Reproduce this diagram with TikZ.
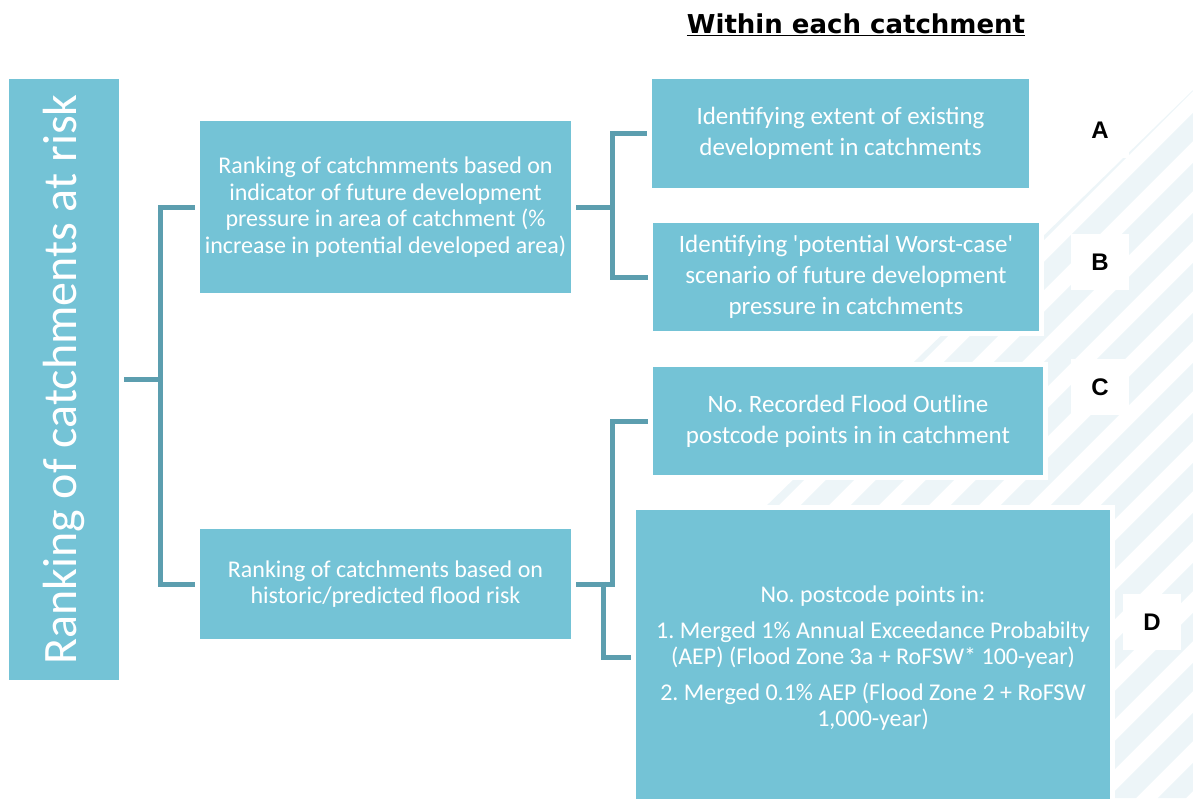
\documentclass[tikz,border=0pt]{standalone}
\usepackage{fontspec}
\setmainfont{Carlito}
\newfontfamily\headfont{DejaVu Sans}
\newfontfamily\tagfont{Liberation Sans}
\usetikzlibrary{positioning}
\frenchspacing
\definecolor{boxteal}{RGB}{116,195,214}
\definecolor{linkteal}{RGB}{92,158,175}
\definecolor{stripeblue}{RGB}{237,245,248}
\tikzset{
    tealbox/.style={rectangle, fill=boxteal, text=white, preaction={draw=white, line width=10pt}, inner sep=0pt, align=center, font=\fontsize{25}{31}\selectfont},
    leftbox/.style={tealbox, minimum width=371pt, font=\fontsize{24}{26.5}\selectfont},
    link/.style={draw=linkteal, line width=5pt, shorten <=5pt, shorten >=5pt},
    stub/.style={link, shorten >=-2.5pt},
    tagbox/.style={fill=white, font=\tagfont\bfseries\fontsize{24}{24}\selectfont, minimum width=58pt, minimum height=56pt},
    stripe/.style={draw=stripeblue, line width=20pt}
}

\begin{document}
\begin{tikzpicture}[x=1pt, y=-1pt]

        \useasboundingbox (0,0) rectangle (1193,798);

        % ------------------
        % stripes
        % ------------------

        \begin{scope}
            \clip (1193,90) -- (1193,798) -- (760,798) -- (760,512) -- cycle;
            \foreach \s in {0,...,16}
                \draw[stripe] (420+50*\s,850) -- ++(820,-820);
        \end{scope}

        % ------------------
        % nodes
        % ------------------

        \node[tealbox, minimum width=110pt, minimum height=601pt, font=\fontsize{48}{48}\selectfont] (riskbox) at (64,379.5) {\rotatebox{90}{Ranking of catchments at risk}};

        \node[leftbox, minimum height=172pt] (devrank) at (385.5,207) {Ranking of catchmments based on\\ indicator of future development\\ pressure in area of catchment (\%\\ increase in potential developed area)};
        \node[leftbox, minimum height=110pt] (floodrank) at (385.5,584) {Ranking of catchments based on\\ historic/predicted flood risk};

        \node[font=\headfont\bfseries\fontsize{26}{26}\selectfont, anchor=base] (heading) at (856,33) {\underline{Within each catchment}};

        \node[tealbox, minimum width=377pt, minimum height=109pt] (existbox) at (840.5,133.5) {Identifying extent of existing\\ development in catchments};
        \node[tealbox, minimum width=386pt, minimum height=108pt] (worstbox) at (846,277) {Identifying \textquotesingle potential Worst-case\textquotesingle\\ scenario of future development\\ pressure in catchments};
        \node[tealbox, minimum width=390pt, minimum height=108pt] (recordbox) at (848,421) {No. Recorded Flood Outline\\ postcode points in in catchment};
        \node[tealbox, minimum width=474pt, minimum height=295pt, anchor=north, font=\fontsize{24}{25.5}\selectfont] (postbox) at (873,510) {No. postcode points in:\\[11pt] 1. Merged 1\% Annual Exceedance Probabilty\\ (AEP) (Flood Zone 3a + RoFSW* 100-year)\\[11pt] 2. Merged 0.1\% AEP (Flood Zone 2 + RoFSW\\ 1,000-year)};

        \node[tagbox] (tagA) at (1100,130) {A};
        \node[tagbox] (tagB) at (1100,262) {B};
        \node[tagbox] (tagC) at (1100,387) {C};
        \node[tagbox] (tagD) at (1152,622) {D};

        % ------------------
        % connectors
        % ------------------

        \coordinate (trunk) at (160,379.5);
        \coordinate (devfork) at (612,207);
        \coordinate (floodfork) at (612,584);
        \coordinate (postfork) at (603,584);

        \draw[stub] (riskbox.east) -- (trunk);
        \draw[link] (devrank.west) -| (trunk) |- (floodrank.west);

        \draw[stub] (devrank.east) -- (devfork);
        \draw[link] (existbox.west) -| (devfork) |- (worstbox.west);

        \draw[link] (floodrank.east) -- (floodfork) |- (recordbox.west);
        \draw[link, shorten <=-2.5pt] (postfork) |- (postbox.west);

\end{tikzpicture}
\end{document}
